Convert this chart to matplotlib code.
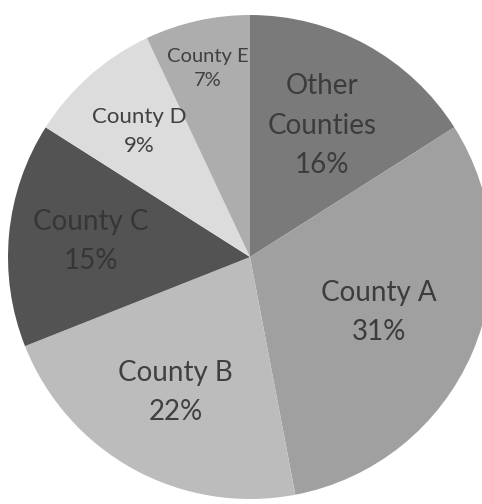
import matplotlib
matplotlib.use('Agg')
import matplotlib.pyplot as plt
import numpy as np

# share of each county, clockwise from 12 o'clock
names = ["Other\nCounties", "County A", "County B", "County C", "County D", "County E"]
shares = [16, 31, 22, 15, 9, 7]

colors = ["#7a7a7a", "#a0a0a0", "#bcbcbc", "#535353", "#dcdcdc", "#adadad"]
text_colors = ["#3c3c3c", "#3c3c3c", "#404040", "#363636", "#404040", "#404040"]
label_r = [0.62, 0.58, 0.64, 0.66, 0.69, 0.80]
font_sizes = [20, 20, 20, 20, 16, 14.5]
spacing = [1.62, 1.62, 1.62, 1.62, 1.55, 1.5]

plt.rcParams['font.family'] = ['Lato', 'DejaVu Sans']

fig = plt.figure(figsize=(4.82, 5.04), dpi=100)
ax = fig.add_axes([0, 0, 1, 1])

wedges, _ = ax.pie(shares, colors=colors, startangle=90, counterclock=False,
                   radius=1.0, wedgeprops=dict(linewidth=0))

for w, name, val, r, fs, tc, ls in zip(wedges, names, shares, label_r,
                                       font_sizes, text_colors, spacing):
    mid = np.deg2rad((w.theta1 + w.theta2) / 2)
    ax.text(r * np.cos(mid), r * np.sin(mid), f"{name}\n{val}%",
            ha='center', va='center', fontsize=fs, color=tc, linespacing=ls)

# pie centre sits at (250, 257) px with a radius of 242 px
R = 242.0
ax.set_xlim(-250 / R, 232 / R)
ax.set_ylim(-247 / R, 257 / R)
ax.axis('off')

fig.savefig('out.png', dpi=100)
